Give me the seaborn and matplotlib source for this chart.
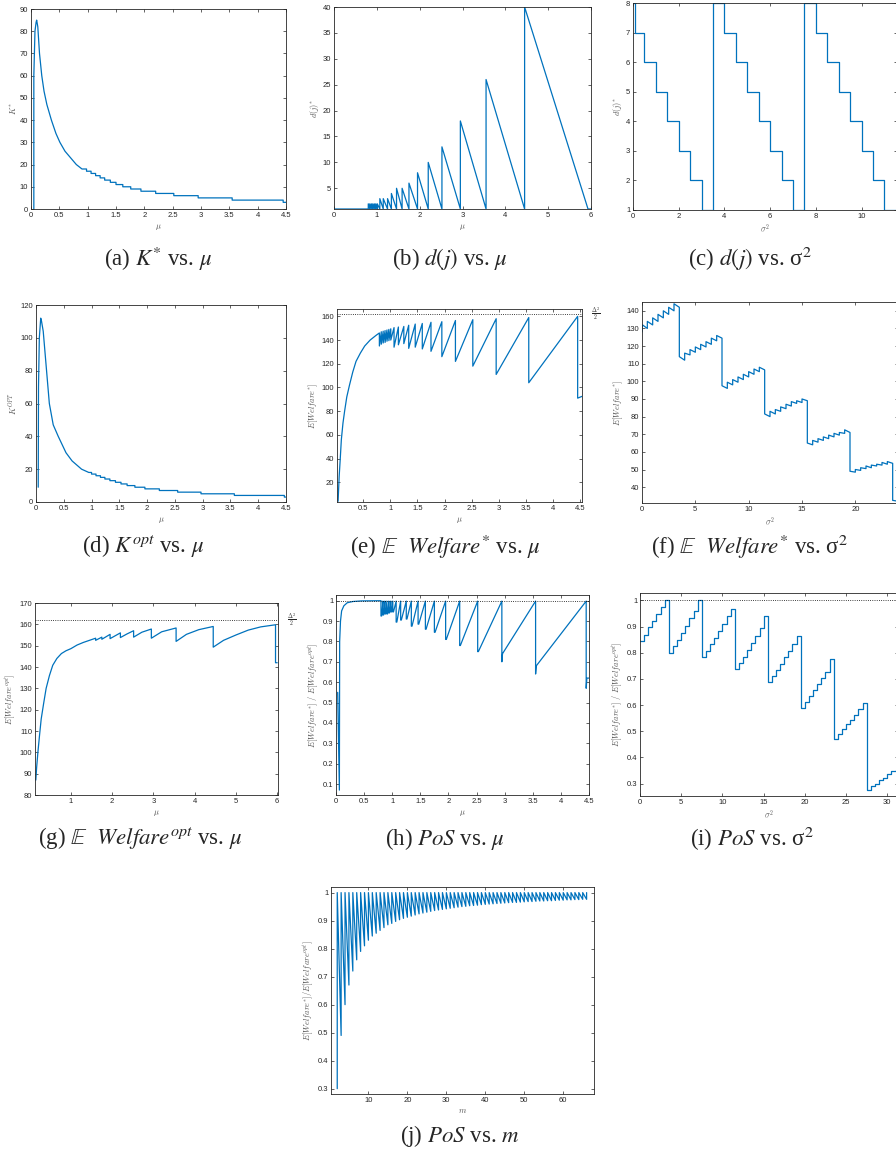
import matplotlib
matplotlib.use("Agg")
import matplotlib.pyplot as plt
import seaborn as sns
from matplotlib.ticker import FuncFormatter
from matplotlib.transforms import blended_transform_factory

sns.set_style("ticks")
plt.rcParams['font.family'] = ['Liberation Sans', 'DejaVu Sans']
plt.rcParams['mathtext.fontset'] = 'cm'

W, H = 896, 1152
BLUE = '#0072BD'
GREY = '#262626'

# ---- data ----
# (a) K* vs mu : smooth part then integer steps
a_mu = [0.05, 0.05, 0.07, 0.09, 0.10, 0.12, 0.15, 0.19, 0.23, 0.28, 0.36, 0.44, 0.51, 0.60, 0.70, 0.80, 0.90]
a_k = [0, 60, 80, 84, 85, 82, 70, 60, 53, 47, 40, 34, 30, 26, 23, 20, 18]
a_step_mu = [0.90, 0.98, 1.06, 1.14, 1.22, 1.30, 1.40, 1.50, 1.62, 1.76, 1.94, 2.20, 2.52, 2.95, 3.55, 4.45, 4.50]
a_step_k = [18, 17, 16, 15, 14, 13, 12, 11, 10, 9, 8, 7, 6, 5, 4, 3]

# jump positions shared by (b), (e), (h)
mu_jumps = [0.80, 0.835, 0.87, 0.905, 0.94, 0.975, 1.01, 1.07, 1.15, 1.25, 1.34, 1.46, 1.59,
            1.75, 1.95, 2.20, 2.52, 2.95, 3.55, 4.45]

# (b) d(j)* vs mu
b_peak = [2, 2, 2, 2, 2, 2, 2, 3, 3, 3, 4, 5, 5, 6, 8, 10, 13, 18, 26, 40]
b_end = 5.93

# (c) d(j)* vs sigma^2
c_s2 = [0, 0.07, 0.5, 1.0, 1.5, 2.0, 2.5, 3.0, 3.5, 4.0, 4.5, 5.0, 5.5, 6.0, 6.5, 7.0, 7.5,
        8.0, 8.5, 9.0, 9.5, 10.0, 10.5, 11.0, 11.55]
c_d = [8, 7, 6, 5, 4, 3, 2, 1, 8, 7, 6, 5, 4, 3, 2, 1, 8, 7, 6, 5, 4, 3, 2, 1]

# (d) K^OPT vs mu
d_mu = [0.04, 0.045, 0.06, 0.085, 0.10, 0.13, 0.19, 0.24, 0.31, 0.40, 0.54, 0.65, 0.82, 0.95]
d_k = [9, 70, 100, 112, 110, 104, 80, 60, 47, 40, 30, 25, 20, 18]
d_step_mu = [0.95, 1.00, 1.08, 1.16, 1.24, 1.33, 1.43, 1.53, 1.64, 1.78, 1.96, 2.22, 2.55, 2.97, 3.57, 4.47, 4.50]
d_step_k = [18, 17, 16, 15, 14, 13, 12, 11, 10, 9, 8, 7, 6, 5, 4, 3]

# (e) E[Welfare*] vs mu
e_mu0 = [0.04, 0.06, 0.08, 0.10, 0.13, 0.16, 0.20, 0.25, 0.31, 0.37, 0.45, 0.53, 0.63, 0.74]
e_w0 = [4, 25, 40, 56, 70, 80, 92, 102, 113, 122, 129, 135, 140, 144]
e_top = [146, 147, 147.5, 148, 148.5, 149, 149.5, 150.5, 151, 151.5, 152.5, 153.5, 154, 155,
         155.5, 156.5, 157.2, 158, 159, 160]
e_low = [135, 136.5, 137.5, 138, 139, 139.5, 140, 134, 136, 137, 133, 134, 132.5, 130.5,
         126, 122, 118, 111, 104, 91]
e_end = (4.53, 92.5)

# (f) E[Welfare*] vs sigma^2 (vertices)
f_s2 = [0, 0.05, 0.5, 0.5, 1.0, 1.0, 1.5, 1.5, 2.0, 2.0, 2.5, 2.5, 3.0, 3.0, 3.5, 3.5,
        4.0, 4.0, 4.5, 4.5, 5.0, 5.0, 5.5, 5.5, 6.0, 6.0, 6.5, 6.5, 7.0, 7.0, 7.5, 7.5,
        8.0, 8.0, 8.5, 8.5, 9.0, 9.0, 9.5, 9.5, 10.0, 10.0, 10.5, 10.5, 11.0, 11.0, 11.5, 11.5,
        12.0, 12.0, 12.5, 12.5, 13.0, 13.0, 13.5, 13.5, 14.0, 14.0, 14.5, 14.5, 15.0, 15.0, 15.5, 15.5,
        16.0, 16.0, 16.5, 16.5, 17.0, 17.0, 17.5, 17.5, 18.0, 18.0, 18.5, 18.5, 19.0, 19.0, 19.5, 19.5,
        20.0, 20.0, 20.5, 20.5, 21.0, 21.0, 21.5, 21.5, 22.0, 22.0, 22.5, 22.5, 23.0, 23.0, 23.5, 23.5,
        24.0]
f_w = [128, 132, 130, 134, 132, 136, 134, 138, 136, 140, 138, 142, 140, 144, 142, 114,
       112, 116, 115, 118, 116.5, 119.5, 118, 121, 119.5, 122.5, 121, 124.5, 123, 126, 124.5, 97.5,
       96, 99.5, 98, 101, 99.5, 102.5, 101, 104, 102.5, 105.5, 104, 107, 105.5, 108, 106.5, 81.5,
       80, 83, 81.5, 84, 83, 85.5, 84.5, 87, 86, 88.5, 87.5, 89, 88, 90, 89, 65,
       64, 66.5, 65.5, 67.5, 66.5, 68.5, 67.5, 69.5, 68.5, 70.5, 69.5, 71, 70.5, 72.5, 71, 49,
       48.5, 50, 49.5, 51, 50.5, 52, 51, 52.5, 52, 53, 52.5, 54, 53, 54.5, 53.5, 32.5,
       32]

# (g) E[Welfare^opt] vs mu
g_mu = [0.15, 0.17, 0.20, 0.24, 0.28, 0.34, 0.40, 0.48, 0.56, 0.66, 0.77, 0.88, 1.00, 1.15, 1.30,
        1.45, 1.60, 1.60, 1.75, 1.75, 1.95, 1.95, 2.20, 2.20, 2.36, 2.52, 2.52, 2.72, 2.95, 2.95,
        3.20, 3.55, 3.55, 3.80, 4.10, 4.45, 4.45, 4.70, 5.00, 5.30, 5.60, 5.96, 5.96, 6.00]
g_w = [87, 93, 100, 108, 115.6, 123, 130, 136, 140.8, 144, 146.3, 147.6, 148.6, 150.3, 151.5,
       152.5, 153.5, 152.5, 154, 153, 155.3, 153.3, 156, 153.8, 155.5, 157, 154, 156.3, 157.8, 153.5,
       156.5, 158.3, 152, 155.3, 157.5, 159, 149.3, 152.5, 155, 157.3, 158.8, 159.8, 142, 142]

# (h) PoS vs mu
h_mu0 = [0.03, 0.06, 0.065, 0.08, 0.10, 0.14, 0.20, 0.30, 0.45]
h_p0 = [0.55, 0.07, 0.80, 0.90, 0.95, 0.975, 0.99, 0.996, 0.999]
h_top = [1.0, 0.998, 0.998, 0.998, 0.998, 0.998, 0.998, 0.998, 0.998, 0.998, 0.998, 0.998, 0.998,
         0.998, 0.998, 0.998, 0.998, 0.998, 0.998, 0.998]
h_low = [0.925, 0.93, 0.935, 0.935, 0.94, 0.945, 0.945, 0.895, 0.905, 0.91, 0.875, 0.885, 0.86,
         0.845, 0.81, 0.78, 0.75, 0.70, 0.64, 0.57]
h_after = [0.925, 0.93, 0.935, 0.935, 0.94, 0.945, 0.945, 0.895, 0.905, 0.91, 0.875, 0.885, 0.86,
           0.845, 0.81, 0.78, 0.75, 0.74, 0.68, 0.62]
h_end = (4.5, 0.62)

# (i) PoS vs sigma^2, one level per half unit
i_pos = [0.845, 0.868, 0.897, 0.92, 0.948, 0.973, 1.0,
         0.80, 0.826, 0.849, 0.875, 0.903, 0.932, 0.958, 1.0,
         0.785, 0.808, 0.833, 0.858, 0.884, 0.909, 0.939, 0.968,
         0.737, 0.76, 0.785, 0.81, 0.836, 0.864, 0.894, 0.941,
         0.687, 0.711, 0.734, 0.757, 0.782, 0.805, 0.833, 0.862,
         0.59, 0.613, 0.635, 0.657, 0.68, 0.702, 0.728, 0.775,
         0.472, 0.49, 0.508, 0.526, 0.545, 0.564, 0.584, 0.607,
         0.277, 0.29, 0.30, 0.313, 0.323, 0.336, 0.349, 0.352]
i_s2 = [k / 2 for k in range(len(i_pos))] + [31.3]

# (j) PoS vs m
j_m = list(range(2, 67))
j_low = [0.30, 0.49, 0.60, 0.67, 0.72, 0.76, 0.79, 0.81, 0.83, 0.845,
         0.855, 0.865, 0.875, 0.885, 0.89, 0.897, 0.903, 0.908, 0.912, 0.916,
         0.92, 0.924, 0.927, 0.93, 0.933, 0.936, 0.938, 0.94, 0.942, 0.944,
         0.946, 0.948, 0.95, 0.951, 0.953, 0.954, 0.955, 0.957, 0.958, 0.959,
         0.96, 0.961, 0.962, 0.963, 0.964, 0.965, 0.965, 0.966, 0.967, 0.968,
         0.968, 0.969, 0.97, 0.97, 0.971, 0.971, 0.972, 0.973, 0.973, 0.974,
         0.974, 0.975, 0.975, 0.976, 0.976]
j_top = 1.0


def steps(xs, ys):
    # breakpoints + levels -> step vertices
    ox, oy = [], []
    for i in range(len(ys)):
        ox += [xs[i], xs[i + 1]]
        oy += [ys[i], ys[i]]
    return ox, oy


fig = plt.figure(figsize=(W / 100, H / 100), dpi=100)


def add_ax(l, t, r, b):
    return fig.add_axes([l / W, 1 - b / H, (r - l) / W, (b - t) / H])


def draw(ax, x, y):
    sns.lineplot(x=x, y=y, ax=ax, sort=False, estimator=None, color=BLUE, linewidth=0.9)


def style(ax, xlim, ylim, xt, yt, xl, yl):
    ax.set_xlim(*xlim)
    ax.set_ylim(*ylim)
    ax.set_xticks(xt)
    ax.set_yticks(yt)
    fmt = FuncFormatter(lambda v, p: '%g' % round(v, 3))
    ax.xaxis.set_major_formatter(fmt)
    ax.yaxis.set_major_formatter(fmt)
    ax.tick_params(direction='in', top=True, right=True, length=2.5, width=0.5,
                   labelsize=5.5, pad=2, colors=GREY)
    for s in ax.spines.values():
        s.set_linewidth(0.6)
        s.set_color(GREY)
    ax.set_xlabel(xl, fontsize=6, color='#555555', labelpad=2.5)
    ax.set_ylabel(yl, fontsize=6, color='#555555', labelpad=1.5)


def caption(x, y, s):
    fig.text(x / W, 1 - y / H, s, ha='center', va='center', fontsize=16.5,
             family='Liberation Serif', math_fontfamily='stix')


def half_label(ax, yv):
    tr = blended_transform_factory(ax.transAxes, ax.transData)
    ax.text(1.035, yv, r'$\frac{\Delta^2}{2}$', transform=tr, fontsize=6, va='center',
            ha='left', color=GREY)


mu_ticks = [0, 0.5, 1, 1.5, 2, 2.5, 3, 3.5, 4, 4.5]
welf_lbl = r'$E[Welfare^{*}]$'
pos_lbl = r'$E[Welfare^{*}]\ /\ E[Welfare^{opt}]$'

# (a)
ax = add_ax(31, 9, 286, 209)
sx, sy = steps(a_step_mu, a_step_k)
draw(ax, a_mu + sx, a_k + sy)
style(ax, (0, 4.5), (0, 90), mu_ticks, list(range(0, 91, 10)), r'$\mu$', r'$K^{*}$')

# (b)
ax = add_ax(334, 7, 591, 209)
bx, by = [0, mu_jumps[0]], [1, 1]
nxt = mu_jumps[1:] + [b_end]
for j, p, n in zip(mu_jumps, b_peak, nxt):
    bx += [j, n]
    by += [p, 1]
bx.append(6)
by.append(1)
draw(ax, bx, by)
style(ax, (0, 6), (1, 40), list(range(0, 7)), list(range(5, 41, 5)), r'$\mu$', r'$d(j)^{*}$')

# (c)
ax = add_ax(633, 3, 897, 210)
sx, sy = steps(c_s2, c_d)
draw(ax, sx, sy)
style(ax, (0, 11.55), (1, 8), [0, 2, 4, 6, 8, 10], list(range(1, 9)), r'$\sigma^2$', r'$d(j)^{*}$')

# (d)
ax = add_ax(36, 305, 286, 502)
sx, sy = steps(d_step_mu, d_step_k)
draw(ax, d_mu + sx, d_k + sy)
style(ax, (0, 4.5), (0, 120), mu_ticks, list(range(0, 121, 20)), r'$\mu$', r'$K^{OPT}$')

# (e)
ax = add_ax(337, 309, 582, 502)
ex, ey = list(e_mu0), list(e_w0)
for j, t, lo in zip(mu_jumps, e_top, e_low):
    ex += [j, j]
    ey += [t, lo]
ex.append(e_end[0])
ey.append(e_end[1])
draw(ax, ex, ey)
ax.axhline(162, ls=':', color='k', lw=0.6)
style(ax, (0.02, 4.53), (3.4, 166.2), mu_ticks[1:], list(range(20, 161, 20)), r'$\mu$', welf_lbl)
half_label(ax, 162)

# (f)
ax = add_ax(642, 302, 898, 503)
draw(ax, f_s2, f_w)
style(ax, (0, 24), (31, 145), [0, 5, 10, 15, 20], list(range(40, 141, 10)), r'$\sigma^2$', welf_lbl)

# (g)
ax = add_ax(35, 603, 278, 795)
draw(ax, g_mu, g_w)
ax.axhline(161.9, ls=':', color='k', lw=0.6)
style(ax, (0.13, 6.02), (80, 170), [1, 2, 3, 4, 5, 6], list(range(80, 171, 10)), r'$\mu$',
      r'$E[Welfare^{opt}]$')
half_label(ax, 161.9)

# (h)
ax = add_ax(336, 595, 589, 795)
hx, hy = list(h_mu0), list(h_p0)
for j, t, lo, af in zip(mu_jumps, h_top, h_low, h_after):
    hx += [j, j, j + 0.012]
    hy += [t, lo, af]
hx.append(h_end[0])
hy.append(h_end[1])
draw(ax, hx, hy)
ax.axhline(1.0, ls=':', color='k', lw=0.6)
style(ax, (0, 4.5), (0.046, 1.028), mu_ticks, [k / 10 for k in range(1, 11)], r'$\mu$', pos_lbl)

# (i)
ax = add_ax(640, 593, 898, 796)
sx, sy = steps(i_s2, i_pos)
draw(ax, sx, sy)
ax.axhline(1.0, ls=':', color='k', lw=0.6)
style(ax, (0, 31.3), (0.253, 1.028), [0, 5, 10, 15, 20, 25, 30], [k / 10 for k in range(3, 11)],
      r'$\sigma^2$', pos_lbl)

# (j)
ax = add_ax(331, 887, 594, 1094)
jx, jy = [], []
for m, lo in zip(j_m, j_low):
    jx += [m, m]
    jy += [lo, j_top]
draw(ax, jx, jy)
style(ax, (0.4, 67.9), (0.281, 1.02), [10, 20, 30, 40, 50, 60], [k / 10 for k in range(3, 11)],
      r'$m$', r'$E[Welfare^{*}] / E[Welfare^{opt}]$')

# captions
caption(158, 259, r'(a) $K^{*}$ vs. $\mu$')
caption(450, 259, r'(b) $d(j)$ vs. $\mu$')
caption(750, 259, r'(c) $d(j)$ vs. σ$^{2}$')
caption(143, 547, r'(d) $K^{opt}$ vs. $\mu$')
caption(445, 547, r'(e) $\mathbb{E}$  $Welfare^{*}$ vs. $\mu$')
caption(750, 547, r'(f) $\mathbb{E}$  $Welfare^{*}$ vs. σ$^{2}$')
caption(140, 839, r'(g) $\mathbb{E}$  $Welfare^{opt}$ vs. $\mu$')
caption(445, 839, r'(h) $PoS$ vs. $\mu$')
caption(752, 839, r'(i) $PoS$ vs. σ$^{2}$')
caption(460, 1136, r'(j) $PoS$ vs. $m$')

fig.savefig('out.png', dpi=100)
